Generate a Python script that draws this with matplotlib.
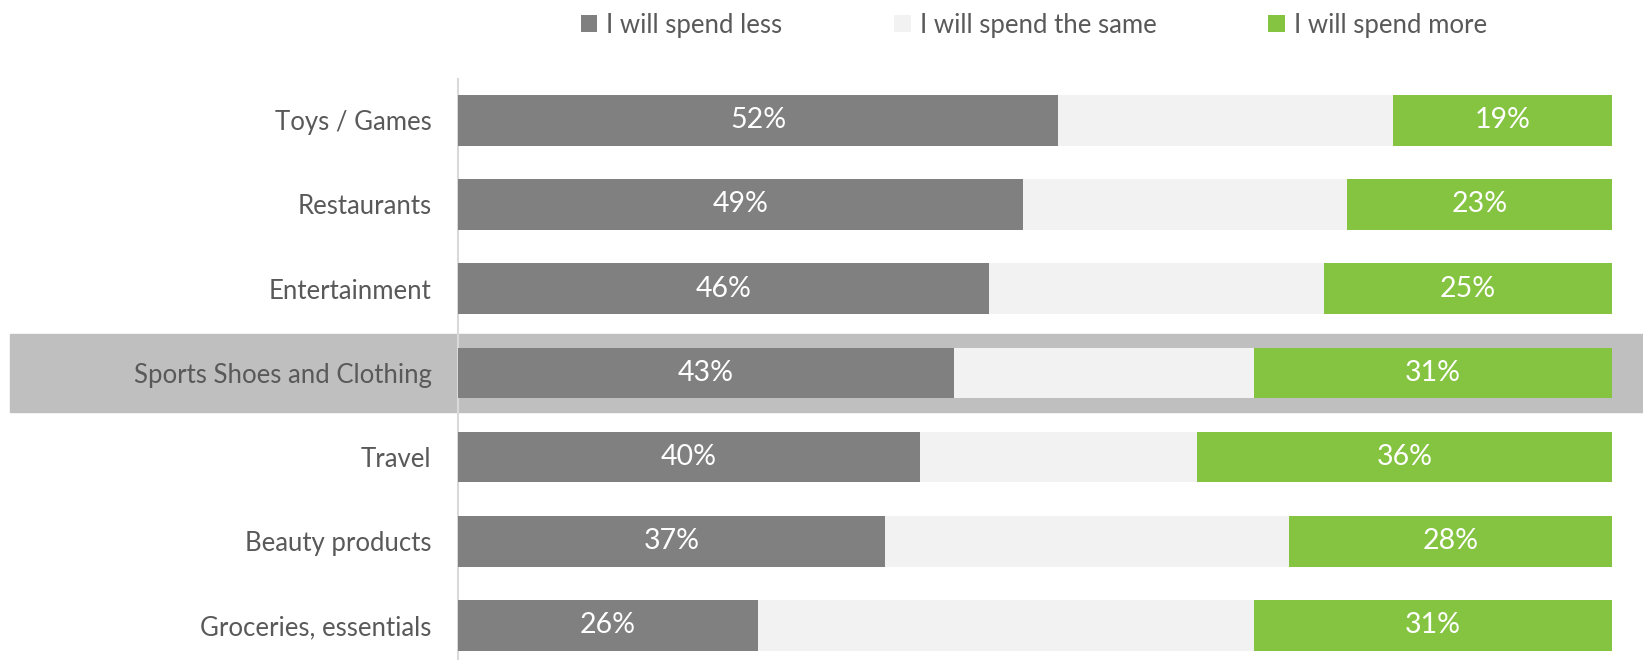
import numpy as np
import matplotlib.pyplot as plt
from matplotlib.patches import Rectangle
from matplotlib.transforms import blended_transform_factory

categories = ["Toys / Games", "Restaurants", "Entertainment", "Sports Shoes and Clothing",
              "Travel", "Beauty products", "Groceries, essentials"]
spend_less = [52, 49, 46, 43, 40, 37, 26]
spend_more = [19, 23, 25, 31, 36, 28, 31]
spend_same = [100 - a - b for a, b in zip(spend_less, spend_more)]
series_names = ["I will spend less", "I will spend the same", "I will spend more"]
highlight = "Sports Shoes and Clothing"

c_less = '#808080'
c_same = '#f2f2f2'
c_more = '#84c441'
c_text = '#595959'

plt.rcParams['font.family'] = ['Lato', 'DejaVu Sans']

W, H = 1643, 660
fig = plt.figure(figsize=(W / 100, H / 100), dpi=100)
ax = fig.add_axes([458 / W, 0, (1612 - 458) / W, (660 - 79) / H])
ax.patch.set_visible(False)

y = np.arange(len(categories))
h = 0.6
b1 = ax.barh(y, spend_less, height=h, color=c_less, label=series_names[0], zorder=2)
b2 = ax.barh(y, spend_same, height=h, left=spend_less, color=c_same, label=series_names[1], zorder=2)
left_more = [a + b for a, b in zip(spend_less, spend_same)]
b3 = ax.barh(y, spend_more, height=h, left=left_more, color=c_more, label=series_names[2], zorder=2)

for i in range(len(categories)):
    ax.text(spend_less[i] / 2, y[i], f"{spend_less[i]}%", ha='center', va='center',
            color='white', fontsize=20.5, zorder=3)
    ax.text(left_more[i] + spend_more[i] / 2, y[i], f"{spend_more[i]}%", ha='center', va='center',
            color='white', fontsize=20.5, zorder=3)

# highlighted row band across the figure
hi = categories.index(highlight)
trans = blended_transform_factory(fig.transFigure, ax.transData)
ax.add_patch(Rectangle((10 / W, hi - 0.465), 1 - 10 / W, 0.93, transform=trans,
                       color='#bfbfbf', clip_on=False, zorder=0))

ax.set_xlim(0, 100)
ax.set_ylim(6.41, -0.49)
ax.set_yticks(y)
ax.set_yticklabels(categories, fontsize=18.5, color=c_text)
ax.tick_params(axis='y', length=0, pad=19)
ax.set_xticks([])
for s in ['top', 'right', 'bottom']:
    ax.spines[s].set_visible(False)
ax.spines['left'].set_color('#d9d9d9')
ax.spines['left'].set_linewidth(1.5)
ax.spines['left'].set_zorder(1)

leg = fig.legend(handles=[b1, b2, b3], loc='center', bbox_to_anchor=(1034 / W, 1 - 25 / H),
                 ncol=3, frameon=False, fontsize=18.5, handlelength=0.65, handleheight=0.65,
                 handletextpad=0.35, columnspacing=4.35)
for t in leg.get_texts():
    t.set_color(c_text)

fig.savefig('out.png', dpi=100)
